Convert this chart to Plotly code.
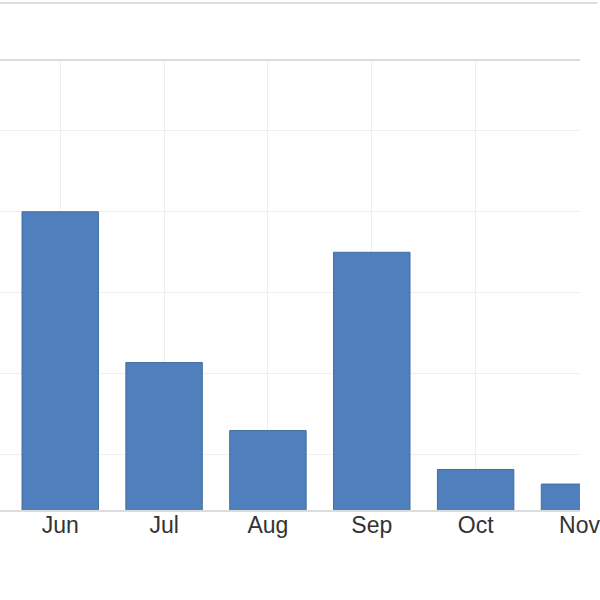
import plotly.graph_objects as go

months = ["Jun", "Jul", "Aug", "Sep", "Oct", "Nov"]
values = [20.0, 10.7, 6.5, 17.5, 4.1, 3.2]
grid_vals = [5, 10, 15, 20, 25]

BAR = "#4f7fbd"

fig = go.Figure()
fig.add_trace(go.Bar(
    x=months, y=values,
    marker=dict(color=BAR, line=dict(color="#41709f", width=1)),
))

fig.update_layout(
    width=600, height=600,
    paper_bgcolor="white", plot_bgcolor="white",
    margin=dict(l=0, r=0, t=61, b=90),
    bargap=0.264,
    showlegend=False,
    font=dict(family="Liberation Sans, Arial, sans-serif", color="#333333"),
    shapes=[dict(type="line", xref="paper", yref="paper", x0=0, x1=1.03, y0=1.129, y1=1.129,
                 line=dict(color="#dddddd", width=2))],
)
fig.update_xaxes(
    range=[-0.58, 5.005],
    showgrid=True, gridcolor="#eeeeee", gridwidth=1,
    showline=True, linecolor="#dcdcdc", linewidth=2, mirror=True,
    ticks="", ticklabelstandoff=-7,
    tickfont=dict(size=23, color="#333333"),
)
fig.update_yaxes(
    range=[1.6, 29.3],
    tickvals=grid_vals, showticklabels=False,
    showgrid=True, gridcolor="#eeeeee", gridwidth=1,
    zeroline=False,
)

# drop page margin and scrollbars so the figure sits at the window corner
fix = ("document.body.style.margin='0';"
       "document.body.style.overflow='hidden';"
       "document.documentElement.style.overflow='hidden';")
fig.write_html("out.html", post_script=fix, config={"displayModeBar": False})
